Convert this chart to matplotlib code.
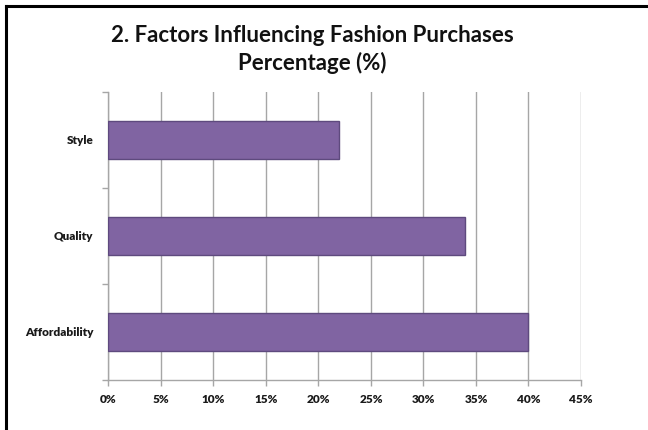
import matplotlib
matplotlib.use("Agg")
import matplotlib.pyplot as plt
from matplotlib.lines import Line2D
from matplotlib.ticker import FixedLocator, PercentFormatter

plt.rcParams['font.family'] = ['Lato', 'DejaVu Sans']

# survey results, bottom row first
factors = ["Affordability", "Quality", "Style"]
shares = [40, 34, 22]
xticks = [0, 5, 10, 15, 20, 25, 30, 35, 40, 45]

bar_color = "#8064A2"
edge_color = "#5E4A7E"
grid_color = "#A6A6A6"

fig = plt.figure(figsize=(6.48, 4.30), dpi=100)
ax = fig.add_axes([0.1674, 0.1163, 0.7292, 0.6704])

pos = range(len(factors))
ax.barh(pos, shares, height=0.4, color=bar_color, edgecolor=edge_color,
        linewidth=1.0, zorder=3)

ax.set_xlim(0, 45)
ax.set_ylim(-0.5, len(factors) - 0.5)
ax.set_xticks(xticks)
ax.xaxis.set_major_formatter(PercentFormatter(decimals=0))
ax.set_yticks(list(pos))
ax.set_yticklabels(factors)
ax.yaxis.set_minor_locator(FixedLocator([p - 0.5 for p in range(len(factors) + 1)]))

ax.grid(axis='x', color=grid_color, linewidth=1.0, zorder=0)
ax.tick_params(axis='x', direction='out', length=4, width=1.0, color=grid_color,
               labelsize=8.5, pad=6)
ax.tick_params(axis='y', which='major', length=0, labelsize=8.5, pad=11)
ax.tick_params(axis='y', which='minor', direction='out', length=4, width=1.0,
               color=grid_color)
for lab in ax.get_xticklabels() + ax.get_yticklabels():
    lab.set_fontweight('heavy')
    lab.set_color('#1a1a1a')

for side in ['top', 'right']:
    ax.spines[side].set_visible(False)
for side in ['left', 'bottom']:
    ax.spines[side].set_color(grid_color)
    ax.spines[side].set_linewidth(1.0)

fig.text(0.482, 0.918, "2. Factors Influencing Fashion Purchases",
         ha='center', va='center', fontsize=16, fontweight='bold', color='#111111')
fig.text(0.482, 0.854, "Percentage (%)",
         ha='center', va='center', fontsize=16, fontweight='bold', color='#111111')

# frame edges along the left and top
fig.add_artist(Line2D([0.0093, 0.0093], [0.0, 0.986], transform=fig.transFigure,
                      color='black', linewidth=2.2))
fig.add_artist(Line2D([0.0093, 1.0], [0.986, 0.986], transform=fig.transFigure,
                      color='black', linewidth=2.2))

fig.savefig("out.png", dpi=100, facecolor='white')
